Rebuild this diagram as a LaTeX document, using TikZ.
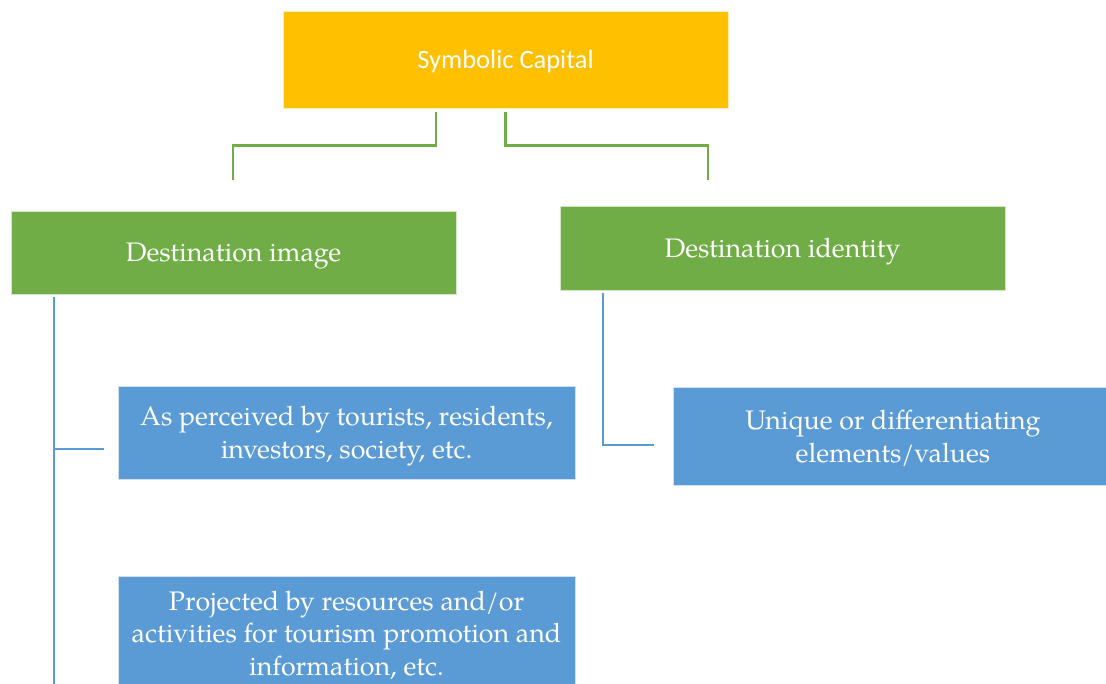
\documentclass[tikz,border=0pt]{standalone}
\usepackage{fontspec}
\newfontfamily\calib{Carlito}
\newfontfamily\pal{TeX Gyre Pagella}
\definecolor{cyel}{HTML}{FFC000}
\definecolor{cgreen}{HTML}{70AD47}
\definecolor{cblue}{HTML}{5B9BD5}
\begin{document}
\begin{tikzpicture}[x=1pt,y=-1pt,
  box/.style={rectangle,draw=white!70!#1,line width=0.8pt,fill=#1,text=white,align=center,inner sep=0pt,text depth=0pt},
  gline/.style={draw=cgreen,line width=2.8pt},
  bline/.style={draw=cblue,line width=2.8pt},
  ptext/.style={font=\pal\fontsize{26.8}{32.5}\selectfont},
]
\useasboundingbox (0,0) rectangle (1106,683);
\clip (0,0) rectangle (1106,683);
\node[box=cyel,minimum width=445pt,minimum height=97pt,font=\calib\fontsize{26.5}{32}\selectfont] (top) at (505.5,59.5) {Symbolic Capital};
\node[box=cgreen,minimum width=445pt,minimum height=83pt,ptext] (img) at (233.5,252.5) {Destination image};
\node[box=cgreen,minimum width=445pt,minimum height=84pt,ptext] (ident) at (782.5,248) {Destination identity};
\node[box=cblue,minimum width=457pt,minimum height=93pt,ptext] (perc) at (346.5,432.5) {As perceived by tourists, residents,\\investors, society, etc.};
\node[box=cblue,minimum width=457pt,minimum height=114pt,ptext] (proj) at (346.5,633) {Projected by resources and/or\\activities for tourism promotion and\\information, etc.};
\node[box=cblue,minimum width=440pt,minimum height=98pt,ptext] (uniq) at (893,436) {Unique or differentiating\\elements/values};
% green connectors
\coordinate (gl) at (233,180);
\coordinate (gr) at (708,180);
\draw[gline] ([xshift=-69.5pt,yshift=-4pt]top.south) |- ++(0,33) -| (gl);
\draw[gline] ([yshift=-4pt]top.south) |- ++(0,33) -| (gr);
% blue connectors
\coordinate (lb) at (54,690);
\draw[bline] ([xshift=-179.5pt,yshift=-3pt]img.south) -- (lb);
\draw[bline] (54,449) -- ([xshift=-14pt]perc.west |- 54,449);
\draw[bline] ([xshift=-179.5pt,yshift=-3pt]ident.south) |- ([xshift=-19pt]uniq.west |- 0,445);
\end{tikzpicture}
\end{document}
